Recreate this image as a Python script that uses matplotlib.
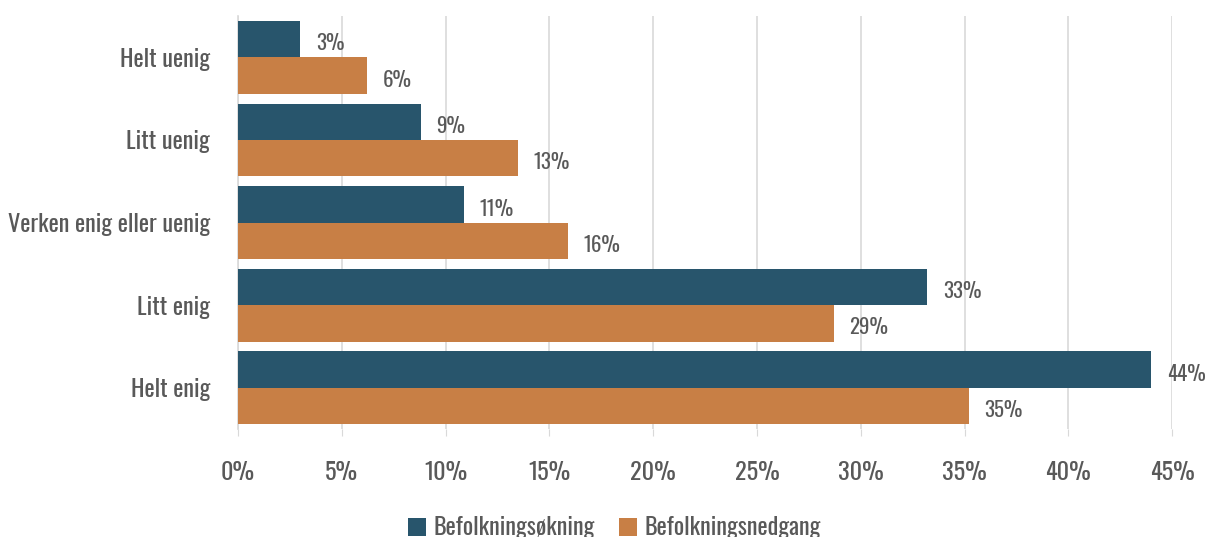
import matplotlib
matplotlib.use("Agg")
import matplotlib.pyplot as plt
from matplotlib import font_manager
import numpy as np

categories = ["Helt uenig", "Litt uenig", "Verken enig eller uenig", "Litt enig", "Helt enig"]
okning = [3.0, 8.8, 10.9, 33.2, 44.0]
nedgang = [6.2, 13.5, 15.9, 28.7, 35.2]
okning_labels = ["3%", "9%", "11%", "33%", "44%"]
nedgang_labels = ["6%", "13%", "16%", "29%", "35%"]
series_names = ["Befolkningsøkning", "Befolkningsnedgang"]
xticks = [0, 5, 10, 15, 20, 25, 30, 35, 40, 45]

DARK = "#28556C"
ORANGE = "#C87F45"
TEXT = "#595959"

names = {f.name for f in font_manager.fontManager.ttflist}
fams = [f for f in ["Oswald", "Liberation Sans Narrow", "Archivo Narrow"] if f in names]
plt.rcParams["font.family"] = fams + ["DejaVu Sans"]
plt.rcParams["font.weight"] = "light"


def main():
    fig = plt.figure(figsize=(12.07, 5.37), dpi=100)
    ax = fig.add_axes([0.1972, 0.201, 0.774, 0.769])

    y = np.arange(len(categories))
    h = 0.44
    ax.barh(y - h / 2, okning, height=h, color=DARK, label=series_names[0], zorder=3)
    ax.barh(y + h / 2, nedgang, height=h, color=ORANGE, label=series_names[1], zorder=3)

    for i in range(len(categories)):
        ax.text(okning[i] + 0.75, y[i] - h / 2 + 0.05, okning_labels[i], va="center", ha="left",
                fontsize=15, color=TEXT)
        ax.text(nedgang[i] + 0.75, y[i] + h / 2 + 0.05, nedgang_labels[i], va="center", ha="left",
                fontsize=15, color=TEXT)

    ax.set_ylim(len(categories) - 0.5, -0.5)
    ax.set_xlim(0, 45)
    ax.set_yticks(y)
    ax.set_yticklabels(categories, fontsize=17.5, color=TEXT)
    ax.set_xticks(xticks)
    ax.set_xticklabels([f"{t}%" for t in xticks], fontsize=17.5, color=TEXT)

    ax.grid(axis="x", color="#D9D9D9", linewidth=1.2, zorder=0)
    for s in ["top", "right", "bottom"]:
        ax.spines[s].set_visible(False)
    ax.spines["left"].set_color("#D9D9D9")
    ax.spines["left"].set_linewidth(1.2)
    ax.tick_params(axis="y", length=0, pad=20)
    ax.tick_params(axis="x", length=5, color="#D9D9D9", pad=18)

    fig.legend(loc="lower center", bbox_to_anchor=(0.509, -0.045), ncol=2, frameon=False,
               fontsize=17.5, labelcolor=TEXT, handlelength=0.75, handleheight=0.75,
               handletextpad=0.3, columnspacing=1.0)

    fig.savefig("out.png", dpi=100)
    plt.close(fig)


if __name__ == "__main__":
    main()
